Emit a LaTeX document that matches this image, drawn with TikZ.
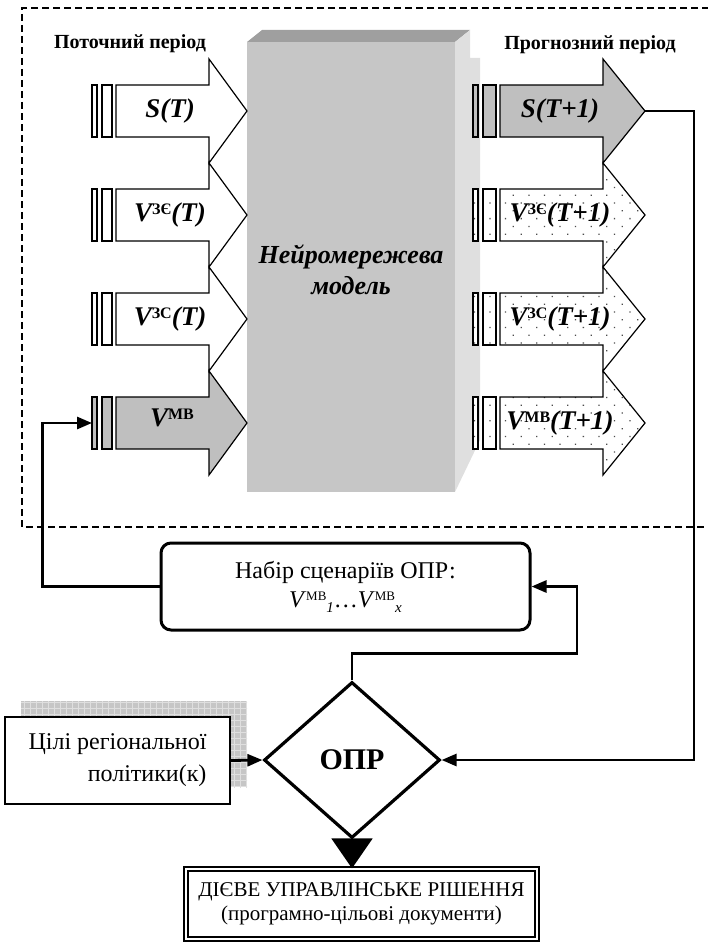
\documentclass[tikz,border=0pt]{standalone}
\usepackage{fontspec}
\setmainfont{Liberation Serif}
\usetikzlibrary{arrows.meta,shapes.geometric,patterns.meta}

\tikzset{
  outline/.style={draw,line width=1.2pt,fill=white},
  greyarrow/.style={outline,fill=gray!50},
  dotarrow/.style={outline,preaction={fill=white},
    pattern={Dots[distance=11pt,radius=0.9pt,angle=45]},pattern color=gray!60!black},
  conn/.style={line width=2.8pt,-{Triangle[length=15pt,width=12pt]}},
  heading/.style={font=\fontsize{20}{22}\selectfont\bfseries},
  arrowtext/.style={font=\fontsize{27}{29}\selectfont\bfseries\itshape},
}

% block arrow: style, bar x, body x, neck x, tip x, centre y
\newcommand\blockarrow[6]{%
  \draw[#1] (#2,#6-26) rectangle (#2+5,#6+26);
  \draw[#1] (#2+10,#6-26) rectangle (#3-4,#6+26);
  \draw[#1] (#3,#6-26) -- (#4,#6-26) -- (#4,#6-52) -- (#5,#6)
    -- (#4,#6+52) -- (#4,#6+26) -- (#3,#6+26) -- cycle;}
\newcommand\supx[1]{\raisebox{7pt}{\fontsize{16}{16}\selectfont\upshape #1}}

\begin{document}
\begin{tikzpicture}[x=1pt,y=-1pt]
  \clip (0,0) rectangle (708,942);
  \draw[line width=1.3pt,dash pattern=on 7pt off 4pt]
    (720,8) -- (22,8) -- (22,527) -- (720,527);

  % neural model block
  \fill[gray!75] (247,42) -- (262,30) -- (470,30) -- (455,42) -- cycle;
  \fill[gray!25] (455,42) -- (470,30) -- (470,58) -- (480,58) -- (480,440) -- (455,492) -- cycle;
  \fill[gray!45] (247,42) rectangle (455,492);
  \node[font=\fontsize{26}{31}\selectfont\bfseries\itshape,align=center]
    (model) at (351,270) {Нейромережева\\модель};

  \node[heading] (cur) at (130,44) {Поточний період};
  \node[heading] (fut) at (590,45) {Прогнозний період};

  \blockarrow{outline}{92}{116}{209}{247}{111}
  \blockarrow{outline}{92}{116}{209}{247}{215}
  \blockarrow{outline}{92}{116}{209}{247}{319}
  \blockarrow{greyarrow}{92}{116}{209}{247}{423}
  \blockarrow{greyarrow}{473}{500}{603}{645}{111}
  \blockarrow{dotarrow}{473}{500}{603}{645}{215}
  \blockarrow{dotarrow}{473}{500}{603}{645}{319}
  \blockarrow{dotarrow}{473}{500}{603}{645}{423}

  \node[arrowtext] (sT) at (170,111) {S(T)};
  \node[arrowtext] (vzeT) at (170,215) {V\supx{ЗЄ}(T)};
  \node[arrowtext] (vzsT) at (170,319) {V\supx{ЗС}(T)};
  \node[arrowtext] (vmv) at (172,418) {V\supx{МВ}};
  \node[arrowtext] (sT1) at (560,111) {S(T+1)};
  \node[arrowtext] (vzeT1) at (560,215) {V\supx{ЗЄ}(T+1)};
  \node[arrowtext] (vzsT1) at (560,319) {V\supx{ЗС}(T+1)};
  \node[arrowtext] (vmvT1) at (560,423) {V\supx{МВ}(T+1)};
  \coordinate (in4) at (92,423);
  \coordinate (out1) at (645,111);

  % lower part
  \node[draw,line width=3pt,rounded corners=10pt,minimum width=369pt,minimum height=87pt,
    align=center,font=\fontsize{24}{29}\selectfont] (scen) at (345.5,586.5)
    {Набір сценаріїв ОПР:\\
     \textit{V}\raisebox{7pt}{\fontsize{13}{13}\selectfont МВ}\raisebox{-5pt}{\fontsize{15}{15}\selectfont\itshape 1}\dots
     \textit{V}\raisebox{7pt}{\fontsize{13}{13}\selectfont МВ}\raisebox{-5pt}{\fontsize{15}{15}\selectfont\itshape x}};

  \path[preaction={fill=gray!45},pattern={Hatch[distance=6pt,angle=0,line width=0.6pt]},
    pattern color=white!75!gray] (21,701) rectangle (247,787);
  \node[draw,line width=1.8pt,fill=white,minimum width=225pt,minimum height=87pt,
    align=right,font=\fontsize{24}{32}\selectfont] (goal) at (117.5,760.5)
    {Цілі регіональної\\політики(к)};

  \node[draw,diamond,line width=3.2pt,minimum width=176pt,minimum height=156pt,inner sep=0pt,
    font=\fontsize{30}{30}\selectfont\bfseries] (opr) at (352,760) {ОПР};

  \node[draw,double,double distance=2.5pt,line width=1.3pt,minimum width=351pt,minimum height=70pt,
    align=center,font=\fontsize{21}{24}\selectfont] (dec) at (361.5,904)
    {ДІЄВЕ УПРАВЛІНСЬКЕ РІШЕННЯ\\(програмно-цільові документи)};

  \draw[conn] (out1) -- ++(49,0) |- (opr.east);
  \draw[conn] (goal.east) -- (opr.west);
  \draw[conn] (opr.north) -- ++(0,-27) -- ++(225,0) |- (scen.east);
  \draw[conn] (scen.west) -- ++(-117,0) |- (in4);
  \draw[line width=2pt,-{Triangle[length=30pt,width=41pt]}] (opr.south) -- (opr.south |- dec.north);
\end{tikzpicture}
\end{document}
